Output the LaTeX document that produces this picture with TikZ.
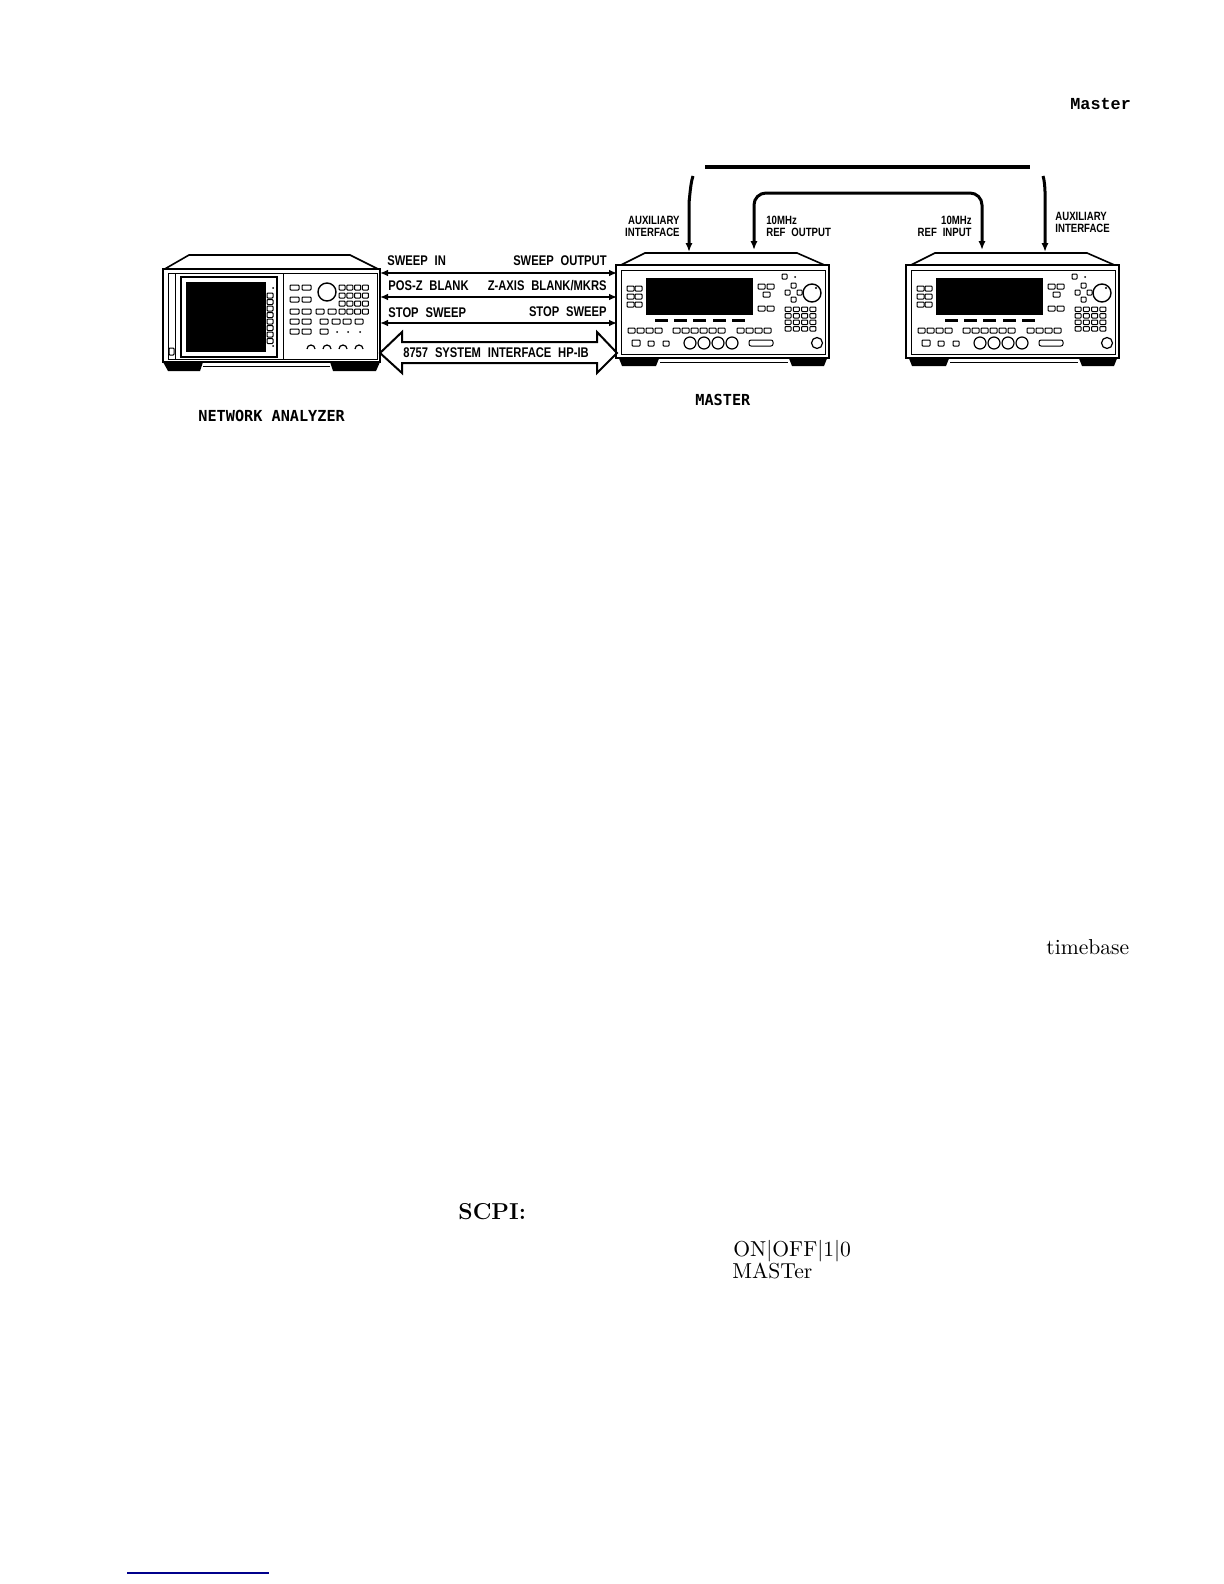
\documentclass[tikz,border=0pt]{standalone}
\usepackage{fontspec}
\newfontfamily\plotfont{Liberation Sans}[FakeStretch=0.8,WordSpace=2.2]
\newfontfamily\blockfont{DejaVu Sans Mono}
\newfontfamily\codefont{Liberation Mono}
\usetikzlibrary{arrows.meta}

\begin{document}
\begin{tikzpicture}[x=0.5pt,y=-0.5pt,
  lbl/.style={font=\plotfont\bfseries\fontsize{7}{7}\selectfont,inner sep=0pt},
  portlbl/.style={font=\plotfont\bfseries\fontsize{6}{6}\selectfont,inner sep=0pt},
  devname/.style={font=\blockfont\bfseries\fontsize{7.6}{8}\selectfont,inner sep=0pt},
  pagetxt/.style={font=\fontsize{10.8}{12}\selectfont,inner sep=0pt,anchor=base west},
  sig/.style={line width=1.4pt,{Latex[length=4pt,width=3.4pt]}-{Latex[length=4pt,width=3.4pt]}},
  cab/.style={line width=1.5pt,-{Latex[length=4.5pt,width=3.6pt]}},
  btn/.style={line width=0.5pt,rounded corners=0.4pt},
  body/.style={line width=1pt,fill=white}]
\useasboundingbox (0,0) rectangle (1224,1584);

% network analyzer
\draw[line width=0.8pt] (163,270) -- (189,255) -- (350,255) -- (380,270);
\fill (163,362) -- (203,362) -- (200,371) -- (168,371) -- cycle;
\fill (330,362) -- (380,362) -- (376,371) -- (333,371) -- cycle;
\draw[line width=0.5pt] (203,366) -- (330,366);
\draw[body] (163,269) rectangle (380,362);
\draw[line width=0.5pt] (168,273) rectangle (377,359);
\draw[line width=0.5pt] (175,273) -- (175,359) (283,273) -- (283,359);
\draw[btn] (169,348) rectangle (174,355);
\draw[line width=0.6pt] (181,277) rectangle (277,357);
\fill (186,282) rectangle (266,352);
\foreach \j in {0,...,7}
\draw[btn] (267,293+6.5*\j) rectangle ++(6,5);
\fill (273,288) circle (1) (273,346) circle (1);
\foreach \y in {285,297,309,319,329}
\draw[btn] (290,\y) rectangle ++(9,5) (302,\y) rectangle ++(9,5);
\foreach \x/\y in {316/309,328/309,320/319,332/319,343/319,355/319,320/329}
\draw[btn] (\x,\y) rectangle ++(8,5);
\foreach \x in {337,348,360} \fill (\x,332) circle (1);
\draw[line width=0.7pt] (327,292) circle (9);
\foreach \i in {0,...,3} \foreach \j in {0,...,3}
\draw[btn] (339+7.8*\i,285+8*\j) rectangle ++(6,5);
\foreach \x in {311,327,343,359}
\draw[line width=0.6pt] (\x-4,349) arc (180:360:4);

% synthesizers
\foreach \dx/\nm in {0/mst,290/slv}{
\begin{scope}[shift={(\dx,0)}]
\draw[line width=0.8pt] (617,267) -- (645,253) -- (797,253) -- (829,267);
\fill (618,356) -- (660,356) -- (656,366) -- (622,366) -- cycle;
\fill (788,356) -- (828,356) -- (824,366) -- (792,366) -- cycle;
\draw[line width=0.5pt] (660,362) -- (788,362);
\draw[body] (616,265) rectangle (829,358);
\draw[line width=0.5pt] (621,270) rectangle (825,354);
\fill (646,278) rectangle (753,315);
\foreach \x/\y in {627/286,635/286,627/294,635/294,627/302,635/302,758/284,767/284,763/292,758/306,767/306}
\draw[btn] (\x,\y) rectangle ++(7,5);
\foreach \x/\y in {782/274,791/283,785/290,797/290,791/297}
\draw[btn] (\x,\y) rectangle ++(5,5);
\fill (795,277) circle (1);
\draw[line width=0.7pt] (812,293) circle (9);
\fill (816,288) circle (1.2);
\foreach \i in {0,...,3} \foreach \j in {0,...,3}
\draw[btn] (785+8.3*\i,307+6.5*\j) rectangle ++(6,4.5);
\foreach \x in {655,674,693,713,732} \fill (\x,319) rectangle ++(13,2.5);
\foreach \x in {628,637,646,655,673,682,691,700,709,718,737,746,755,764}
\draw[btn] (\x,328) rectangle ++(7,5);
\draw[btn] (632,340) rectangle ++(8,6) (648,341) rectangle ++(6,5) (663,341) rectangle ++(6,5);
\foreach \x in {690,704,718,732} \draw[line width=0.6pt] (\x,343) circle (6);
\draw[btn,rounded corners=1pt] (749,340) rectangle (773,346);
\draw[line width=0.6pt] (817,343) circle (5.5);
\end{scope}}

% ports
\foreach \i/\y in {1/273,2/297,3/323}{
\coordinate (na-p\i) at (380,\y);
\coordinate (mst-p\i) at (617,\y);}
\coordinate (na-bus) at (380,353);
\coordinate (mst-bus) at (617,353);
\coordinate (mst-aux) at (689,252);
\coordinate (mst-ref) at (754,250);
\coordinate (slv-ref) at (982,250);
\coordinate (slv-aux) at (1045,252);
\coordinate (aux-l) at (693,176);
\coordinate (aux-r) at (1043,176);
\coordinate (ref-mid) at (868,193);
\coordinate (bar-w) at (705,167);
\coordinate (bar-e) at (1030,167);

% signal lines
\foreach \i in {1,2,3}
\draw[sig] (na-p\i) -- (mst-p\i);
\draw[line width=1pt,line join=miter] (na-bus) -- ++(22,-21) -- ++(0,10) -- ++(195,0) -- ++(0,-10)
  -- (mst-bus) -- ++(-20,20) -- ++(0,-10) -- ++(-195,0) -- ++(0,10) -- cycle;
\node[lbl,anchor=base] (bus) at (496,357) {8757 SYSTEM INTERFACE HP-IB};

\node[lbl,anchor=base west] (sweep-in) at (387,265) {SWEEP IN};
\node[lbl,anchor=base east] (sweep-out) at (607,265) {SWEEP OUTPUT};
\node[lbl,anchor=base west] (pos-z) at (388,290) {POS-Z BLANK};
\node[lbl,anchor=base east] (z-axis) at (607,290) {Z-AXIS BLANK/MKRS};
\node[lbl,anchor=base west] (stop-na) at (388,317) {STOP SWEEP};
\node[lbl,anchor=base east] (stop-mst) at (607,316) {STOP SWEEP};

% cables on top
\draw[line width=2pt] (bar-w) -- (bar-e);
\draw[cab] (aux-l) to[out=250,in=-90] ++(-4,24) -- (mst-aux);
\draw[cab] (aux-r) to[out=-70,in=-90] ++(2,20) -- (slv-aux);
\draw[cab,{Latex[length=4.5pt,width=3.6pt]}-{Latex[length=4.5pt,width=3.6pt]},rounded corners=6pt] (mst-ref) |- (ref-mid) -| (slv-ref);

\node[portlbl,anchor=south east,align=right] (aux-lbl-l) at (680,237) {AUXILIARY\\INTERFACE};
\node[portlbl,anchor=south west,align=left] (ref-out) at (766,237) {10MHz\\REF OUTPUT};
\node[portlbl,anchor=south east,align=right] (ref-in) at (972,237) {10MHz\\REF INPUT};
\node[portlbl,anchor=south west,align=left] (aux-lbl-r) at (1055,233) {AUXILIARY\\INTERFACE};

\node[devname,anchor=base west] (na-name) at (198,421) {NETWORK ANALYZER};
\node[devname,anchor=base west] (mst-name) at (695,405) {MASTER};

% page text
\node[font=\codefont\bfseries\fontsize{8.4}{9}\selectfont,inner sep=0pt,anchor=base west] (hdr) at (1070,110) {Master};
\node[pagetxt] (tb) at (1046,954) {timebase};
\node[pagetxt,font=\bfseries\fontsize{11.5}{13}\selectfont] (scpi) at (458,1219) {SCPI:};
\node[pagetxt] (onoff) at (733,1256) {ON|OFF|1|0};
\node[pagetxt] (mastr) at (732,1278) {MASTer};
\draw[line width=0.6pt,blue!55!black] (127,1573) -- (269,1573);
\end{tikzpicture}
\end{document}
